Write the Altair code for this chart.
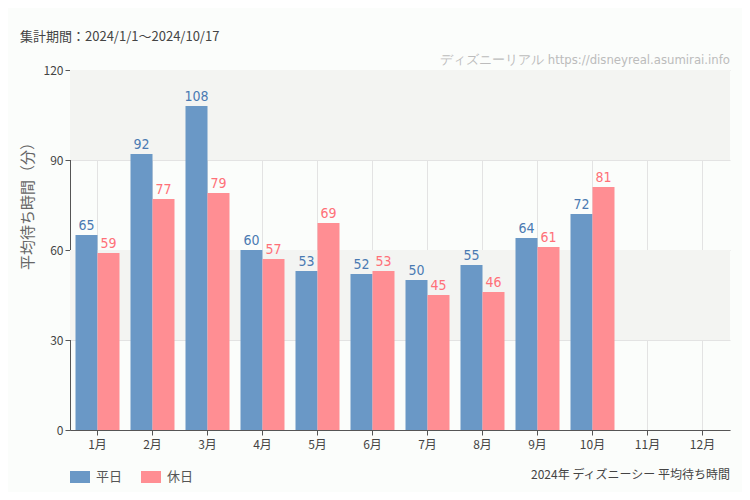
import altair as alt
import pandas as pd

months = ["1月", "2月", "3月", "4月", "5月", "6月", "7月", "8月", "9月", "10月", "11月", "12月"]
types = ["平日", "休日"]
weekday = [65, 92, 108, 60, 53, 52, 50, 55, 64, 72]
holiday = [59, 77, 79, 57, 69, 53, 45, 46, 61, 81]
y_ticks = [0, 30, 60, 90, 120]
band_lo = [30, 90]
band_hi = [60, 120]

title_text = "集計期間：2024/1/1～2024/10/17"
watermark = "ディズニーリアル https://disneyreal.asumirai.info"
caption = "2024年 ディズニーシー 平均待ち時間"

rows = []
for i, v in enumerate(weekday):
    rows.append({"month": months[i], "type": "平日", "value": v})
for i, v in enumerate(holiday):
    rows.append({"month": months[i], "type": "休日", "value": v})
df = pd.DataFrame(rows)

FONT = "Noto Sans CJK JP"
NARROW = "Liberation Sans Narrow, DejaVu Sans Condensed, Roboto"

xscale = alt.Scale(domain=months, paddingInner=0.2, paddingOuter=0.1)
yscale = alt.Scale(domain=[0, 120])

y_axis = alt.Axis(
    title="平均待ち時間（分）", titleFontSize=15, titleColor="#666", titleFont=FONT,
    titleFontWeight="normal", titlePadding=8, titleY=132,
    values=y_ticks, labelFontSize=12, labelColor="#444", labelFont=FONT,
    tickColor="#555", tickSize=5, domainColor="#555", grid=True, gridColor="#e3e3e3")

bands = alt.Chart(pd.DataFrame({"lo": band_lo, "hi": band_hi})).mark_rect(color="#f3f4f2").encode(
    y=alt.Y("lo:Q", scale=yscale, axis=y_axis),
    y2="hi:Q",
)

x_enc = alt.X("month:N", scale=xscale, sort=months, axis=alt.Axis(
    title=None, labelAngle=0, labelFontSize=12, labelColor="#444", labelFont=FONT,
    tickColor="#555", tickSize=5, domainColor="#555", grid=True, gridColor="#e3e3e3",
    labelPadding=4))
y_enc = alt.Y("value:Q", scale=yscale, axis=y_axis)

bars = alt.Chart(df).mark_bar().encode(
    x=x_enc,
    xOffset=alt.XOffset("type:N", scale=alt.Scale(domain=types, paddingInner=0, paddingOuter=0)),
    y=y_enc,
    color=alt.Color("type:N", scale=alt.Scale(domain=types, range=["#6a98c6", "#ff8e93"]),
                    legend=alt.Legend(title=None, orient="none", legendX=0, legendY=397,
                                      direction="horizontal",
                                      symbolType="M-1,-0.6H1V0.6H-1Z", symbolSize=400,
                                      symbolOpacity=1, symbolStrokeWidth=0,
                                      labelFontSize=13, labelColor="#555", labelFont=FONT,
                                      labelOffset=6, columnPadding=18)),
)

labels = alt.Chart(df).mark_text(baseline="bottom", dy=-2, fontSize=14, font=NARROW).encode(
    x=alt.X("month:N", scale=xscale, sort=months),
    xOffset=alt.XOffset("type:N", scale=alt.Scale(domain=types, paddingInner=0, paddingOuter=0)),
    y=alt.Y("value:Q", scale=yscale),
    text="value:Q",
    color=alt.Color("type:N", scale=alt.Scale(domain=types, range=["#4a7ab2", "#ff7078"]), legend=None),
)

t_title = alt.Chart(pd.DataFrame({"t": [title_text]})).mark_text(
    align="left", baseline="middle", fontSize=13, color="#444", font=FONT
).encode(x=alt.value(-50), y=alt.value(-33), text="t:N")

t_wm = alt.Chart(pd.DataFrame({"t": [watermark]})).mark_text(
    align="right", baseline="bottom", fontSize=13, color="#bcbcbc", font=NARROW
).encode(x=alt.value(660), y=alt.value(-3), text="t:N")

t_cap = alt.Chart(pd.DataFrame({"t": [caption]})).mark_text(
    align="right", baseline="middle", fontSize=12, color="#444", font=FONT
).encode(x=alt.value(660), y=alt.value(405), text="t:N")

chart = alt.layer(bands, bars, labels, t_title, t_wm, t_cap).resolve_scale(
    color="independent"
).properties(
    width=660, height=360,
    autosize=alt.AutoSizeParams(type="none"),
    padding={"left": 62, "top": 62, "right": 12, "bottom": 62},
    background="#fbfdfb",
).configure_view(stroke=None)

chart.save("out.html", embed_options={"renderer": "svg", "actions": False})
